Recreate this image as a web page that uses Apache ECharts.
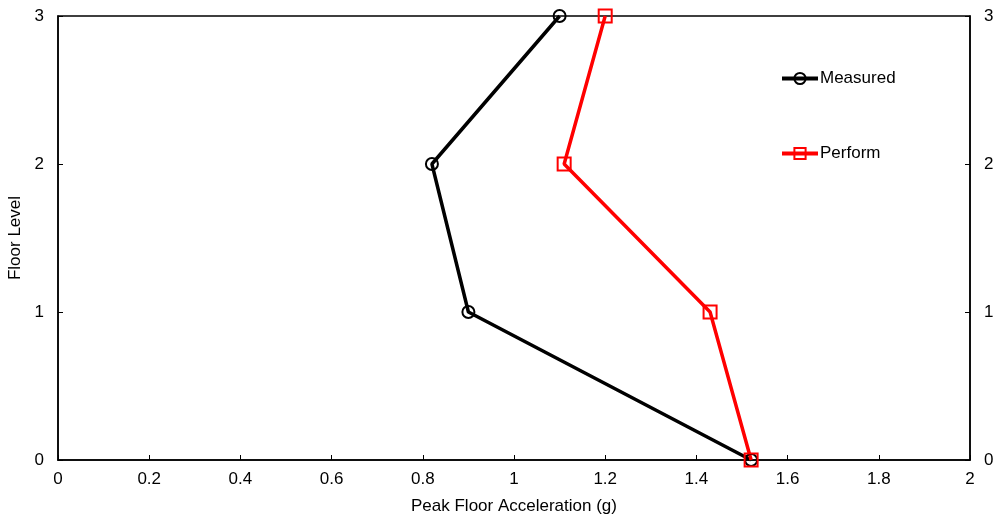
<!DOCTYPE html>
<html><head><meta charset="utf-8">
<script src="https://cdn.jsdelivr.net/npm/echarts@6/dist/echarts.min.js"></script>
<style>html,body{margin:0;padding:0;background:#fff}#c{width:1005px;height:516px}</style>
</head><body><div id="c"></div>
<script>
const floors = [0, 1, 2, 3];
const measured = [1.52, 0.90, 0.82, 1.10];
const perform = [1.52, 1.43, 1.11, 1.20];
const xTitle = 'Peak Floor Acceleration (g)';
const yTitle = 'Floor Level';

const chart = echarts.init(document.getElementById('c'));
const font = 'Liberation Sans, Arial, sans-serif';
const fs = 17;
const yAxisBase = {
  type: 'value', min: 0, max: 3, interval: 1,
  axisLine: {show: true, lineStyle: {color: '#000', width: 1.5}},
  axisTick: {show: true, inside: true, length: 5, lineStyle: {color: '#000'}},
  axisLabel: {color: '#000', fontSize: fs, fontFamily: font, margin: 14},
  splitLine: {show: false}
};
const legendBase = {left: 780, padding: 0, itemWidth: 36, itemHeight: 14, itemGap: 2,
  lineStyle: {width: 4},
  textStyle: {color: '#000', fontSize: fs, fontFamily: font, padding: [0,0,0,-3]}};
chart.setOption({
  animation: false,
  grid: {left: 58, right: 35, top: 16, bottom: 56, outerBoundsMode: 'none', containLabel: false,
         show: true, borderColor: '#000', borderWidth: 1.5},
  legend: [
    Object.assign({data: ['Measured'], top: 70}, legendBase),
    Object.assign({data: ['Perform'], top: 145}, legendBase)
  ],
  xAxis: {
    type: 'value', min: 0, max: 2, interval: 0.2,
    name: xTitle, nameLocation: 'middle', nameGap: 38,
    nameTextStyle: {color: '#000', fontSize: fs, fontFamily: font},
    axisLine: {show: true, lineStyle: {color: '#000', width: 1.5}},
    axisTick: {show: true, inside: true, length: 5, lineStyle: {color: '#000'}},
    axisLabel: {color: '#000', fontSize: fs, fontFamily: font, margin: 11},
    splitLine: {show: false}
  },
  yAxis: [
    Object.assign({}, yAxisBase, {position: 'left', name: yTitle, nameLocation: 'middle', nameGap: 29,
      nameTextStyle: {color: '#000', fontSize: fs, fontFamily: font}}),
    Object.assign({}, yAxisBase, {position: 'right'})
  ],
  series: [
    {name: 'Measured', type: 'line', data: floors.map((f, i) => [measured[i], f]),
     symbol: 'circle', symbolSize: 12,
     lineStyle: {color: '#000', width: 3.5},
     itemStyle: {color: 'rgba(0,0,0,0)', borderColor: '#000', borderWidth: 2}},
    {name: 'Perform', type: 'line', data: floors.map((f, i) => [perform[i], f]),
     symbol: 'rect', symbolSize: 13,
     lineStyle: {color: '#ff0000', width: 3.5},
     itemStyle: {color: 'rgba(0,0,0,0)', borderColor: '#ff0000', borderWidth: 2}}
  ]
});
</script></body></html>
